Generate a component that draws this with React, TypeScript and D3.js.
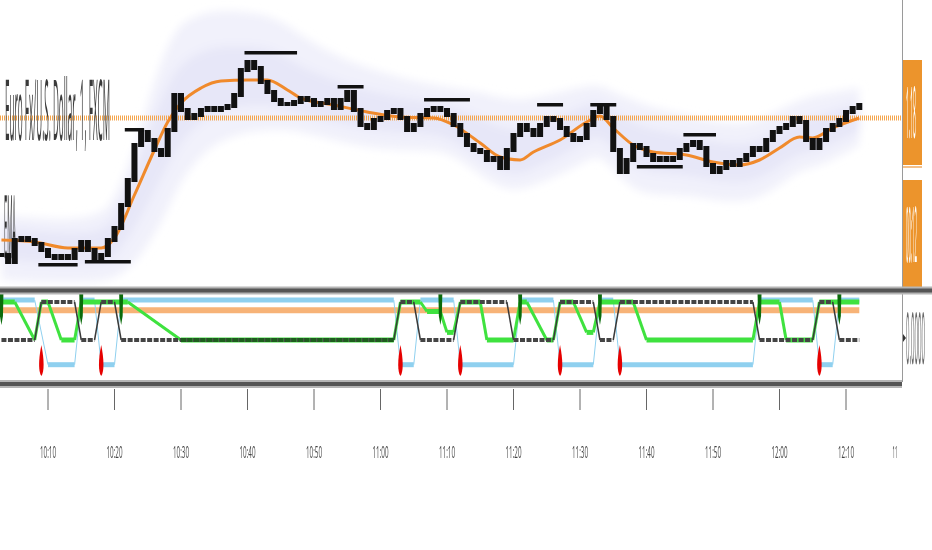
import React, { useRef, useEffect } from 'react';
import * as d3 from 'd3';

const W = 932;
const H = 550;

// one close per 1-minute bar, bar 0 .. 129
const closes = [
  1.17863, 1.17856, 1.17878, 1.1788, 1.17878, 1.17874, 1.17868, 1.17862, 1.1786, 1.17862,
  1.1786, 1.17868, 1.17876, 1.17868, 1.1786, 1.17863, 1.17878, 1.1789, 1.17913, 1.17938,
  1.17973, 1.17986, 1.17978, 1.17968, 1.17963, 1.17988, 1.18023, 1.18008, 1.18, 1.18003,
  1.18008, 1.1801, 1.18008, 1.1801, 1.18012, 1.18023, 1.18048, 1.18056, 1.1805, 1.18036,
  1.18026, 1.18018, 1.18014, 1.18014, 1.18016, 1.1802, 1.18018, 1.18013, 1.18015, 1.18018,
  1.1801, 1.18018, 1.18026, 1.18008, 1.17993, 1.1799, 1.17998, 1.18, 1.18006, 1.18008,
  1.18, 1.17988, 1.17993, 1.18003, 1.18008, 1.1801, 1.18008, 1.18003, 1.17993, 1.17983,
  1.17973, 1.17968, 1.17966, 1.17958, 1.1796, 1.1795, 1.17968, 1.17983, 1.17993, 1.17988,
  1.17983, 1.17993, 1.18, 1.17998, 1.1799, 1.17983, 1.17978, 1.1798, 1.17993, 1.18006,
  1.1801, 1.18, 1.17968, 1.17946, 1.17958, 1.17973, 1.1797, 1.17963, 1.17958, 1.1796,
  1.17958, 1.1796, 1.17968, 1.17973, 1.17976, 1.1797, 1.17953, 1.17946, 1.1795, 1.17956,
  1.17953, 1.17958, 1.17963, 1.1797, 1.17968, 1.17978, 1.17986, 1.1799, 1.17993, 1.18,
  1.17996, 1.17978, 1.1797, 1.17978, 1.17988, 1.17993, 1.17998, 1.18006, 1.1801, 1.18013,
];

// flat price levels (start bar, end bar) and their value
const levelBars = [[6, 11], [13, 19], [19, 21], [37, 44], [51, 54], [64, 70], [81, 84], [89, 92], [96, 102], [103, 107]];
const levelVals = [1.17853, 1.17856, 1.17988, 1.18065, 1.18031, 1.18018, 1.18013, 1.18013, 1.17951, 1.17983];

// EMA and its envelope, read at these bars
const emaBars = [0, 5, 10, 15, 17, 20, 23, 25, 27, 30, 33, 37, 40, 43, 45, 50, 55, 60, 65, 68, 72, 75, 78, 80, 84, 88, 90, 92, 95, 98, 103, 107, 111, 114, 117, 120, 122, 125, 129];
const emaVals = [
  1.17878, 1.17876, 1.1787, 1.1787, 1.1788, 1.17923, 1.17968, 1.17996, 1.18015, 1.1803,
  1.18037, 1.18038, 1.18038, 1.18028, 1.1802, 1.18013, 1.18006, 1.18001, 1.18, 1.17993,
  1.17975, 1.17961, 1.17958, 1.17966, 1.17978, 1.17996, 1.18002, 1.1799, 1.17973, 1.17966,
  1.17963, 1.17956, 1.17953, 1.17958, 1.1797, 1.17981, 1.1798, 1.1799, 1.18,
];
const bandUpper = [
  1.17903, 1.179, 1.17898, 1.17903, 1.17918, 1.17968, 1.18038, 1.18073, 1.18096, 1.18104,
  1.18108, 1.18106, 1.18103, 1.18093, 1.18083, 1.18063, 1.1805, 1.1804, 1.18033, 1.1803,
  1.18026, 1.1802, 1.18018, 1.1802, 1.18026, 1.18032, 1.18033, 1.18026, 1.18018, 1.1801,
  1.18003, 1.17996, 1.17993, 1.17998, 1.18008, 1.18018, 1.18022, 1.18026, 1.1803,
];
const bandLower = [
  1.17838, 1.17836, 1.17836, 1.17836, 1.1784, 1.17853, 1.17883, 1.17908, 1.17938, 1.17963,
  1.17978, 1.17986, 1.17988, 1.17988, 1.17986, 1.17978, 1.1797, 1.17968, 1.17968, 1.17963,
  1.17943, 1.1793, 1.17928, 1.17933, 1.17943, 1.17958, 1.17963, 1.17948, 1.17928, 1.17923,
  1.17923, 1.17918, 1.17916, 1.1792, 1.17933, 1.17948, 1.1795, 1.17958, 1.17973,
];

const lastPrice = 1.18;
const priceLabel = '1.18';
const countdown = '00:12';
const title = 'Euro Fx/U.S. Dollar, 1, FXCM';
const emaLabel = 'EMA';
const oscLabel = '0.0000';

const tickBars = [7, 17, 27, 37, 47, 57, 67, 77, 87, 97, 107, 117, 127];
const tickLabels = ['10:10', '10:20', '10:30', '10:40', '10:50', '11:00', '11:10', '11:20', '11:30', '11:40', '11:50', '12:00', '12:10'];
const cornerLabel = '11';

// oscillator pane
const stateBars = [0, 5, 6, 11, 12, 14, 15, 17, 18, 59, 60, 62, 63, 68, 69, 76, 77, 83, 84, 89, 90, 92, 93, 113, 114, 122, 123, 125, 126, 129];
const stateVals = [0, 0, 1, 1, 0, 0, 1, 1, 0, 0, 1, 1, 0, 0, 1, 1, 0, 0, 1, 1, 0, 0, 1, 1, 0, 0, 1, 1, 0, 0];
const limeBars = [0, 2, 5, 6, 7, 9, 11, 12, 19, 27, 59, 60, 63, 64, 66, 67, 68, 69, 72, 73, 77, 78, 79, 82, 83, 84, 86, 88, 89, 90, 95, 97, 113, 114, 117, 118, 122, 123, 129];
const limeVals = [1, 1, 0, 1, 1, 0, 0, 1, 1, 0, 0, 1, 1, 0.75, 0.75, 0.2, 0.2, 1, 1, 0, 0, 1, 1, 0, 0, 1, 1, 0.2, 0.2, 1, 1, 0, 0, 1, 1, 0, 0, 1, 1];
const blueBars = [0, 5, 7, 11, 12, 14, 15, 17, 18, 59, 60, 62, 63, 68, 69, 77, 78, 83, 84, 89, 90, 92, 93, 113, 114, 122, 123, 125, 126, 129];
const blueVals = [1.05, 1.05, -0.65, -0.65, 1.05, 1.05, -0.65, -0.65, 1.05, 1.05, -0.65, -0.65, 1.05, 1.05, -0.65, -0.65, 1.05, 1.05, -0.65, -0.65, 1.05, 1.05, -0.65, -0.65, 1.05, 1.05, -0.65, -0.65, 1.05, 1.05];
const orangeBars = [0, 129];
const orangeVals = [0.78, 0.78];
const darkRuns = [[27, 59]];
const redSpikes = [6, 15, 60, 69, 84, 93, 123];
const greenSpikes = [0, 12, 18, 66, 78, 90, 114, 126];

const App: React.FC = () => {
  const ref = useRef<SVGSVGElement>(null);

  useEffect(() => {
    const svg = d3.select(ref.current);
    svg.selectAll('*').remove();

    const x = d3.scaleLinear().domain([0, 129]).range([1.45, 859.3]);
    const y = d3.scaleLinear().domain([1.17831, 1.18118]).range([287, 0]);
    const yo = d3.scaleLinear().domain([0, 1]).range([340, 302]);

    const defs = svg.append('defs');
    defs
      .append('filter')
      .attr('id', 'soft')
      .attr('x', '-10%')
      .attr('y', '-50%')
      .attr('width', '120%')
      .attr('height', '200%')
      .append('feGaussianBlur')
      .attr('stdDeviation', 4);
    // grey text rendering (no colour fringes)
    defs
      .append('filter')
      .attr('id', 'grey')
      .append('feColorMatrix')
      .attr('type', 'saturate')
      .attr('values', 0);

    svg.append('rect').attr('width', W).attr('height', H).attr('fill', '#fff');

    // envelope
    const pts = emaBars.map((b, k) => ({ b, e: emaVals[k], u: bandUpper[k], l: bandLower[k] }));
    const outer = d3
      .area<any>()
      .x((d) => x(d.b))
      .y0((d) => y(d.l))
      .y1((d) => y(d.u))
      .curve(d3.curveBasis);
    const inner = d3
      .area<any>()
      .x((d) => x(d.b))
      .y0((d) => y((d.l + d.e) / 2))
      .y1((d) => y((d.u + d.e) / 2))
      .curve(d3.curveBasis);
    const bandG = svg.append('g').attr('filter', 'url(#soft)');
    bandG.append('path').attr('d', outer(pts)).attr('fill', '#f1f1fb');
    bandG.append('path').attr('d', inner(pts)).attr('fill', '#e7e7f8');

    // last price line
    svg
      .append('line')
      .attr('x1', 0)
      .attr('x2', 902)
      .attr('y1', y(lastPrice))
      .attr('y2', y(lastPrice))
      .attr('stroke', '#f4a64e')
      .attr('stroke-width', 5)
      .attr('stroke-dasharray', '1 1');

    const textG = svg.append('g').attr('filter', 'url(#grey)');
    // labels squeezed like the source
    const squished = (
      parent: any,
      str: string,
      x0: number,
      base: number,
      len: number,
      sy: number,
      fill: string,
      size = 12,
      anchor = 'start'
    ) =>
      parent
        .append('text')
        .attr('transform', `translate(${x0},${base}) scale(1,${sy})`)
        .attr('font-size', size)
        .attr('textLength', len)
        .attr('lengthAdjust', 'spacingAndGlyphs')
        .attr('text-anchor', anchor)
        .attr('fill', fill)
        .text(str);

    squished(textG, title, 5, 140, 105, 7, '#3a3a3a');
    squished(textG, emaLabel, 4, 258, 12, 7.3, '#333');

    // EMA line
    const emaLine = d3
      .line<number>()
      .x((_, k) => x(emaBars[k]))
      .y((d) => y(d))
      .curve(d3.curveMonotoneX);
    svg
      .append('path')
      .attr('d', emaLine(emaVals))
      .attr('fill', 'none')
      .attr('stroke', '#f08a2c')
      .attr('stroke-width', 3);

    // price bars
    svg
      .append('g')
      .selectAll('rect')
      .data(closes)
      .join('rect')
      .attr('x', (_, i) => x(i) - 3)
      .attr('width', 6)
      .attr('y', (c, i) => y(Math.max(c, i > 0 ? closes[i - 1] : c)) - 2)
      .attr('height', (c, i) => Math.abs(y(c) - y(i > 0 ? closes[i - 1] : c)) + 4)
      .attr('fill', '#111');

    svg
      .append('g')
      .selectAll('rect')
      .data(levelBars)
      .join('rect')
      .attr('x', (d) => x(d[0]) - 3)
      .attr('width', (d) => x(d[1]) - x(d[0]) + 6)
      .attr('y', (_, k) => y(levelVals[k]) - 2)
      .attr('height', 3.5)
      .attr('fill', '#111');

    // right axis
    svg.append('line').attr('x1', 902.5).attr('x2', 902.5).attr('y1', 0).attr('y2', 288).attr('stroke', '#9a9a9a');
    svg.append('line').attr('x1', 902.5).attr('x2', 902.5).attr('y1', 293).attr('y2', 382).attr('stroke', '#9a9a9a');
    svg.append('rect').attr('x', 903).attr('y', 60).attr('width', 19).attr('height', 105).attr('fill', '#ec942c');
    svg.append('rect').attr('x', 903).attr('y', 166).attr('width', 19).attr('height', 2).attr('fill', '#f3c08a');
    svg.append('rect').attr('x', 903).attr('y', 180).attr('width', 19).attr('height', 108).attr('fill', '#ec942c');
    const axisText = svg.append('g').attr('filter', 'url(#grey)');
    squished(axisText, priceLabel, 906, 138, 10, 6, '#fff');
    squished(axisText, countdown, 906, 262, 11, 6.4, '#fff');
    squished(axisText, oscLabel, 906, 364, 19, 6, '#666');
    svg.append('path').attr('d', 'M903,334 L906,338 L903,342 Z').attr('fill', '#333');

    // oscillator pane
    const osc = svg.append('g');
    const drawSeries = (
      bars: number[],
      vals: number[],
      flat: { c: string; w: number; dash?: string },
      slope: { c: string; w: number }
    ) => {
      const segs = d3.pairs(bars.map((b, k) => [b, vals[k]]));
      osc
        .append('g')
        .selectAll('line')
        .data(segs)
        .join('line')
        .attr('x1', (d) => x(d[0][0]))
        .attr('y1', (d) => yo(d[0][1]))
        .attr('x2', (d) => x(d[1][0]))
        .attr('y2', (d) => yo(d[1][1]))
        .attr('stroke', (d) => (d[0][1] === d[1][1] ? flat.c : slope.c))
        .attr('stroke-width', (d) => (d[0][1] === d[1][1] ? flat.w : slope.w))
        .attr('stroke-dasharray', (d) => (d[0][1] === d[1][1] && flat.dash ? flat.dash : null));
    };

    drawSeries(orangeBars, orangeVals, { c: '#f7b377', w: 6 }, { c: '#f7b377', w: 6 });
    drawSeries(blueBars, blueVals, { c: '#8fd0ef', w: 5 }, { c: '#8fd0ef', w: 1 });
    drawSeries(limeBars, limeVals, { c: '#3fe23f', w: 5 }, { c: '#3fe23f', w: 3 });
    drawSeries(stateBars, stateVals, { c: '#444', w: 4, dash: '5 1.5' }, { c: '#3a3a3a', w: 1.5 });

    osc
      .append('g')
      .selectAll('line')
      .data(darkRuns)
      .join('line')
      .attr('x1', (d) => x(d[0]))
      .attr('x2', (d) => x(d[1]))
      .attr('y1', yo(0))
      .attr('y2', yo(0))
      .attr('stroke', '#1d5e1d')
      .attr('stroke-width', 4)
      .attr('stroke-dasharray', '5 1.5');

    osc
      .append('g')
      .selectAll('path')
      .data(redSpikes)
      .join('path')
      .attr('d', (b) => {
        const cx = x(b);
        return `M${cx},345 C${cx + 3},360 ${cx + 3},372 ${cx},376 C${cx - 3},372 ${cx - 3},360 ${cx},345 Z`;
      })
      .attr('fill', '#e60000');

    osc
      .append('g')
      .selectAll('path')
      .data(greenSpikes)
      .join('path')
      .attr('d', (b) => {
        const cx = x(b);
        return `M${cx - 2},292 L${cx + 2},292 L${cx + 1.5},316 L${cx},325 L${cx - 1.5},316 Z`;
      })
      .attr('fill', '#0b6b0b');

    // pane separators
    const sep = (x2: number, yy: number) => {
      svg.append('line').attr('x1', 0).attr('x2', x2).attr('y1', yy).attr('y2', yy).attr('stroke', '#b5b5b5').attr('stroke-width', 8);
      svg.append('line').attr('x1', 0).attr('x2', x2).attr('y1', yy).attr('y2', yy).attr('stroke', '#555').attr('stroke-width', 4);
    };
    sep(932, 290.5);
    sep(902, 384);

    // time axis
    svg
      .append('g')
      .selectAll('line')
      .data(tickBars)
      .join('line')
      .attr('x1', (b) => x(b))
      .attr('x2', (b) => x(b))
      .attr('y1', 389)
      .attr('y2', 410)
      .attr('stroke', '#666');
    const timeText = svg.append('g').attr('filter', 'url(#grey)');
    tickBars.forEach((b, k) => squished(timeText, tickLabels[k], x(b), 458, 16, 1.4, '#444', 11, 'middle'));
    squished(timeText, cornerLabel, 895, 458, 5, 1.4, '#444', 11, 'middle');
  }, []);

  return (
    <svg
      ref={ref}
      width={W}
      height={H}
      style={{ position: 'absolute', left: 0, top: 0, fontFamily: '"Open Sans", sans-serif' }}
    />
  );
};

export default App;
